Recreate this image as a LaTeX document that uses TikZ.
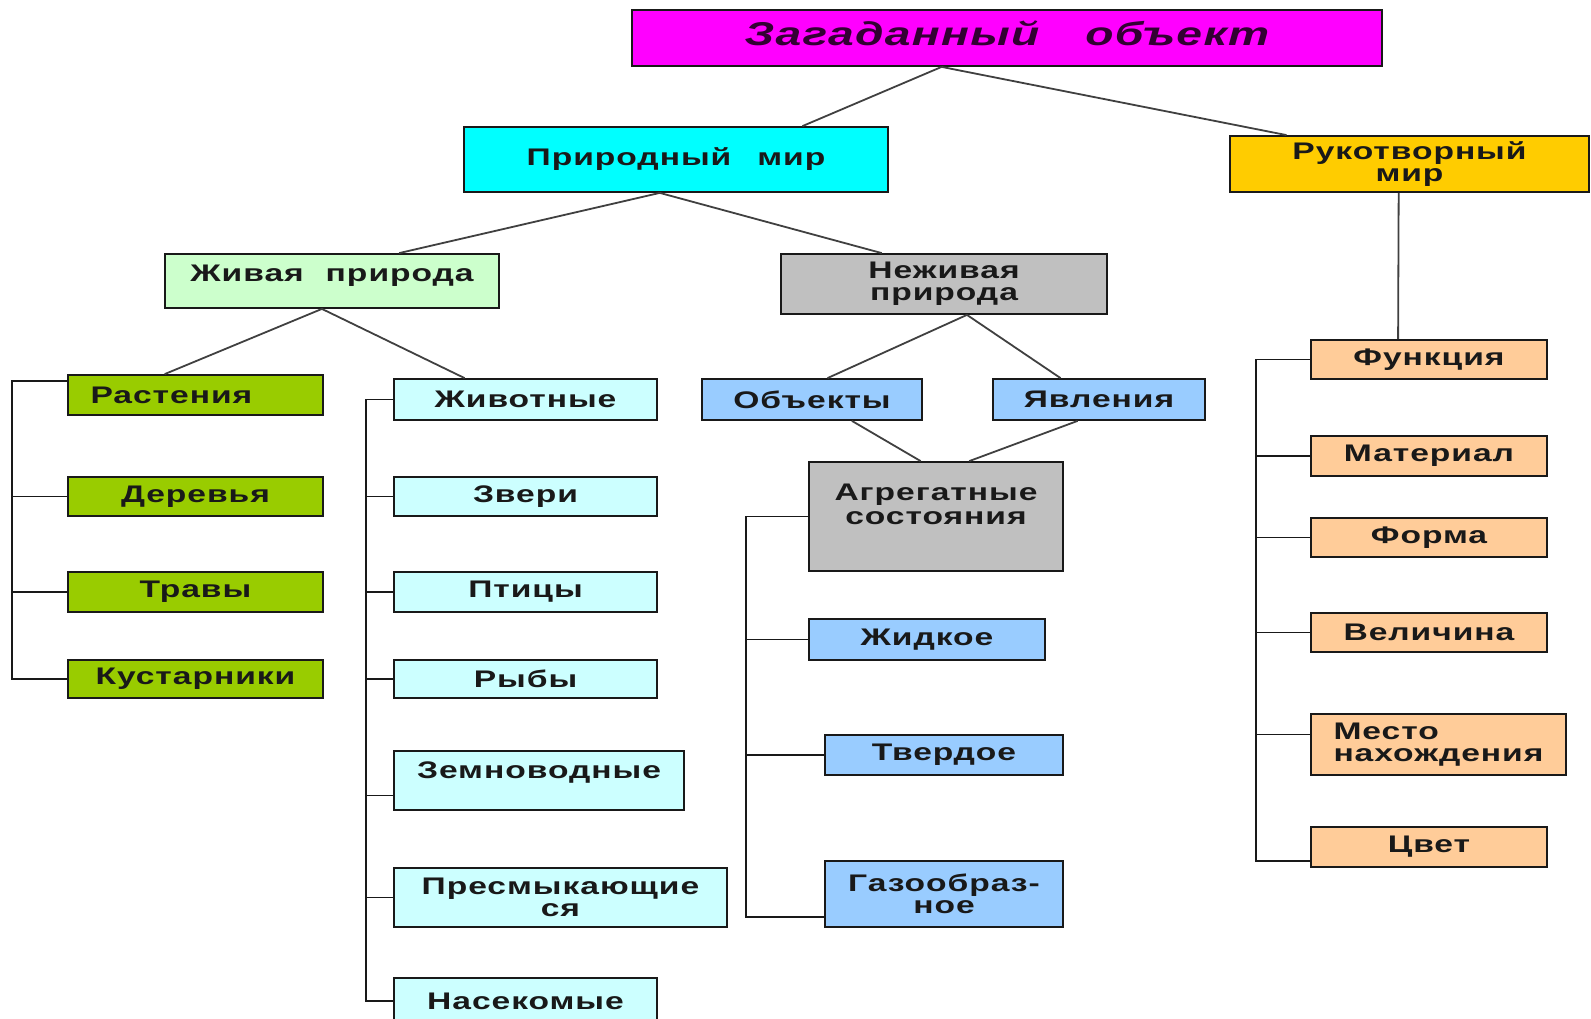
\documentclass[tikz,border=0pt]{standalone}
\usepackage{fontspec}
\newfontfamily\boxfont[FakeStretch=1.4,LetterSpace=4]{Liberation Sans}
\usetikzlibrary{positioning,calc}

\definecolor{magentabox}{HTML}{FF00FF}
\definecolor{darkplum}{HTML}{330033}
\definecolor{cyanbox}{HTML}{00FFFF}
\definecolor{goldbox}{HTML}{FFCC00}
\definecolor{lightgreen}{HTML}{CCFFCC}
\definecolor{graybox}{HTML}{C0C0C0}
\definecolor{plantgreen}{HTML}{99CC00}
\definecolor{paleblue}{HTML}{CCFFFF}
\definecolor{skyblue}{HTML}{99CCFF}
\definecolor{peach}{HTML}{FFCC99}

\begin{document}
\begin{tikzpicture}[x=1pt,y=-1pt]
  \tikzstyle{box}=[draw=black!90,line width=1.8pt,inner sep=0pt,align=center,text=black!90,
                   font=\boxfont\bfseries\fontsize{24}{22}\selectfont]
  \tikzstyle{link}=[draw=black!75,line width=1.8pt]
  \tikzstyle{brace}=[draw=black!90,line width=1.8pt]

  \useasboundingbox (0,0) rectangle (1591,1019);

  % top levels
  \node[box,fill=magentabox,text=darkplum,minimum width=750pt,minimum height=56pt,
        font=\boxfont\bfseries\itshape\fontsize{33}{33}\selectfont]
        (guess)     at (1007,38)    {\raisebox{10pt}{Загаданный\hspace{46pt}объект}};
  \node[box,fill=cyanbox,minimum width=424pt,minimum height=65pt]
        (natural)   at (676,159.5)  {Природный\hspace{26pt}мир};
  \node[box,fill=goldbox,minimum width=359pt,minimum height=56pt]
        (manmade)   at (1409.5,164) {Рукотворный\\мир};
  \node[box,fill=lightgreen,minimum width=334pt,minimum height=54pt]
        (living)    at (332,281)    {\raisebox{16pt}{Живая\hspace{22pt}природа}};
  \node[box,fill=graybox,minimum width=326pt,minimum height=60pt]
        (nonliving) at (944,284)    {Неживая\\природа};

  % plants
  \node[box,fill=plantgreen,minimum width=255pt,minimum height=40pt,text width=210pt,align=left]
        (plants) at (195.5,395) {Растения};
  \node[box,fill=plantgreen,minimum width=255pt,minimum height=39pt] (trees)  at (195.5,496.5) {Деревья};
  \node[box,fill=plantgreen,minimum width=255pt,minimum height=40pt] (grass)  at (195.5,592)   {Травы};
  \node[box,fill=plantgreen,minimum width=255pt,minimum height=38pt] (shrubs) at (195.5,679)   {Кустарники};

  % animals
  \node[box,fill=paleblue,minimum width=263pt,minimum height=41pt] (animals)  at (525.5,399.5) {Животные};
  \node[box,fill=paleblue,minimum width=263pt,minimum height=39pt] (beasts)   at (525.5,496.5) {Звери};
  \node[box,fill=paleblue,minimum width=263pt,minimum height=40pt] (birds)    at (525.5,592)   {Птицы};
  \node[box,fill=paleblue,minimum width=263pt,minimum height=38pt] (fish)     at (525.5,679)   {Рыбы};
  \node[box,fill=paleblue,minimum width=290pt,minimum height=59pt] (amphib)   at (539,780.5)   {\raisebox{20pt}{Земноводные}};
  \node[box,fill=paleblue,minimum width=333pt,minimum height=59pt] (reptiles) at (560.5,897.5) {Пресмыкающие\\ся};
  \node[box,fill=paleblue,minimum width=263pt,minimum height=46pt] (insects)  at (525.5,1001)  {Насекомые};

  % non-living
  \node[box,fill=skyblue,minimum width=220pt,minimum height=41pt] (objects) at (812,399.5)  {Объекты};
  \node[box,fill=skyblue,minimum width=212pt,minimum height=41pt] (phenom)  at (1099,399.5) {Явления};
  \node[box,fill=graybox,minimum width=254pt,minimum height=109pt] (states) at (936,516.5)  {\raisebox{36pt}{\begin{tabular}{@{}c@{}}Агрегатные\\[2pt]состояния\end{tabular}}};
  \node[box,fill=skyblue,minimum width=236pt,minimum height=41pt] (liquid)  at (927,639.5)  {Жидкое};
  \node[box,fill=skyblue,minimum width=238pt,minimum height=40pt] (solid)   at (944,755)    {Твердое};
  \node[box,fill=skyblue,minimum width=238pt,minimum height=66pt] (gas)     at (944,894)    {Газообраз-\\ное};

  % man-made
  \node[box,fill=peach,minimum width=236pt,minimum height=39pt] (function) at (1429,359.5) {Функция};
  \node[box,fill=peach,minimum width=236pt,minimum height=40pt] (material) at (1429,456)   {Материал};
  \node[box,fill=peach,minimum width=236pt,minimum height=39pt] (shape)    at (1429,537.5) {Форма};
  \node[box,fill=peach,minimum width=236pt,minimum height=39pt] (size)     at (1429,632.5) {Величина};
  \node[box,fill=peach,minimum width=255pt,minimum height=61pt,text width=210pt,align=left]
        (place) at (1438.5,744.5) {Место\\нахождения};
  \node[box,fill=peach,minimum width=236pt,minimum height=40pt] (colour)   at (1429,847)   {Цвет};

  % tree links
  \draw[link] ($(guess.south west)!.413!(guess.south east)$) -- ($(natural.north west)!.797!(natural.north east)$);
  \draw[link] ($(guess.south west)!.413!(guess.south east)$) -- ($(manmade.north west)!.159!(manmade.north east)$);
  \draw[link] ($(natural.south west)!.462!(natural.south east)$) -- ($(living.north west)!.70!(living.north east)$);
  \draw[link] ($(natural.south west)!.462!(natural.south east)$) -- ($(nonliving.north west)!.31!(nonliving.north east)$);
  \draw[link] ($(living.south west)!.47!(living.south east)$) -- ($(plants.north west)!.38!(plants.north east)$);
  \draw[link] ($(living.south west)!.47!(living.south east)$) -- ($(animals.north west)!.27!(animals.north east)$);
  \draw[link] ($(nonliving.south west)!.57!(nonliving.south east)$) -- ($(objects.north west)!.57!(objects.north east)$);
  \draw[link] ($(nonliving.south west)!.57!(nonliving.south east)$) -- ($(phenom.north west)!.32!(phenom.north east)$);
  \draw[link] ($(objects.south west)!.68!(objects.south east)$) -- ($(states.north west)!.44!(states.north east)$);
  \draw[link] ($(phenom.south west)!.40!(phenom.south east)$) -- ($(states.north west)!.63!(states.north east)$);
  \draw[link] ($(manmade.south west)!.47!(manmade.south east)$) -- ($(function.north west)!.37!(function.north east)$);

  % brackets
  \draw[brace] ([yshift=14pt]plants.west) -- ++(-55,0) |- (shrubs.west);
  \draw[brace] (trees.west) -- ++(-55,0);
  \draw[brace] (grass.west) -- ++(-55,0);

  \draw[brace] (animals.west) -- ++(-27,0) |- (insects.west);
  \foreach \n in {beasts,birds,fish,reptiles}
    \draw[brace] (\n.west) -- ++(-27,0);
  \draw[brace] ([yshift=-15pt]amphib.west) -- ++(-27,0);

  \draw[brace] (states.west) -- ++(-62,0) |- ([yshift=-23pt]gas.west);
  \draw[brace] (liquid.west) -- ++(-62,0);
  \draw[brace] (solid.west) -- ++(-78,0);

  \draw[brace] (function.west) -- ++(-54,0) |- ([yshift=-14pt]colour.west);
  \foreach \n in {material,shape,size}
    \draw[brace] (\n.west) -- ++(-54,0);
  \draw[brace] ([yshift=10pt]place.west) -- ++(-54,0);
\end{tikzpicture}
\end{document}
